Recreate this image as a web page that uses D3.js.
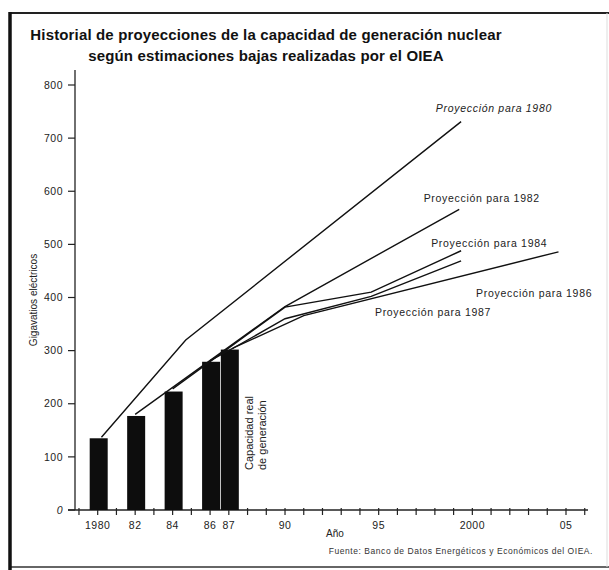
<!DOCTYPE html>
<html>
<head>
<meta charset="utf-8">
<script src="https://cdn.jsdelivr.net/npm/d3@7"></script>
<style>
  body { margin: 0; background: #fff; }
  svg { display: block; }
</style>
</head>
<body>
<svg id="chart" width="609" height="570"></svg>
<script>
// Actual generating capacity (GW)
const barYears = [1980, 1982, 1984, 1986, 1987];
const barValues = [135, 177, 223, 279, 302];

// Low-estimate projections, [year, GW]
const proj1980 = [[1980.2, 137], [1984.7, 320], [1999.4, 731]];
const proj1982 = [[1982, 180], [1990, 383], [1999.3, 566]];
const proj1984 = [[1984, 228], [1990, 382], [1994.6, 410], [1999.4, 488]];
const proj1986 = [[1986, 281], [1987.3, 306], [1991, 366], [2004.6, 486]];
const proj1987 = [[1987.2, 304], [1990, 360], [1994.6, 402], [1999.4, 469]];

const projNames = ["Proyección para 1980", "Proyección para 1982", "Proyección para 1984",
    "Proyección para 1986", "Proyección para 1987"];
// label anchors in data units [year, GW]
const projLabelAt = [[1998.05, 750], [1997.4, 580], [1997.8, 495], [2000.2, 401], [1994.8, 365]];

const yTicks = [0, 100, 200, 300, 400, 500, 600, 700, 800];
const xTickYears = [1980, 1982, 1984, 1986, 1987, 1990, 1995, 2000, 2005];
const xTickLabels = ["1980", "82", "84", "86", "87", "90", "95", "2000", "05"];

const titleLines = ["Historial de proyecciones de la capacidad de generación nuclear",
    "según estimaciones bajas realizadas por el OIEA"];

const font = "'Liberation Sans', Arial, Helvetica, sans-serif";
const svg = d3.select("#chart");

// frame (right side barely visible in the scan)
svg.append("line")
    .attr("x1", 10).attr("x2", 609).attr("y1", 13).attr("y2", 13)
    .attr("stroke", "#222").attr("stroke-width", 2);
svg.append("line")
    .attr("x1", 10).attr("x2", 609).attr("y1", 567).attr("y2", 567)
    .attr("stroke", "#333").attr("stroke-width", 1.5);
svg.append("line")
    .attr("x1", 607).attr("x2", 607).attr("y1", 13).attr("y2", 567)
    .attr("stroke", "#ddd").attr("stroke-width", 1);
svg.append("line")
    .attr("x1", 10).attr("x2", 10).attr("y1", 12).attr("y2", 570)
    .attr("stroke", "#111").attr("stroke-width", 3.5);

// title
svg.append("g").selectAll("text")
    .data(titleLines)
    .join("text")
    .attr("x", 266)
    .attr("y", (d, i) => 40 + i * 21)
    .attr("text-anchor", "middle")
    .style("font-family", font)
    .style("font-size", "15px")
    .style("font-weight", "bold")
    .style("letter-spacing", "0.15px")
    .attr("fill", "#111")
    .text(d => d);

// scales
const x = d3.scaleLinear().domain([1980, 2005]).range([97.7, 566]);
const y = d3.scaleLinear().domain([0, 800]).range([510, 85]);

// y axis
svg.append("line")
    .attr("x1", 75).attr("x2", 75).attr("y1", 70).attr("y2", 510)
    .attr("stroke", "#222").attr("stroke-width", 1.3);

const yAxis = svg.append("g").selectAll("g")
    .data(yTicks)
    .join("g")
    .attr("transform", d => `translate(0,${y(d)})`);
yAxis.append("line")
    .attr("x1", 68).attr("x2", 75)
    .attr("stroke", "#222").attr("stroke-width", 1.2);
yAxis.append("text")
    .attr("x", 63)
    .attr("dy", "0.35em")
    .attr("text-anchor", "end")
    .style("font-family", font)
    .style("font-size", "10.5px")
    .style("letter-spacing", "0.5px")
    .style("font-style", d => d === 0 ? "italic" : "normal")
    .attr("fill", "#222")
    .text(d => d);

svg.append("text")
    .attr("transform", "translate(37,300) rotate(-90)")
    .attr("text-anchor", "middle")
    .style("font-family", font)
    .style("font-size", "10px")
    .attr("fill", "#222")
    .text("Gigavatios eléctricos");

// x axis
svg.append("line")
    .attr("x1", 68).attr("x2", 588).attr("y1", 510).attr("y2", 510)
    .attr("stroke", "#222").attr("stroke-width", 1.3);

svg.append("g").selectAll("line")
    .data(d3.range(1979, 2007))
    .join("line")
    .attr("x1", d => x(d)).attr("x2", d => x(d))
    .attr("y1", 508).attr("y2", 515)
    .attr("stroke", "#222").attr("stroke-width", 1.2);

svg.append("g").selectAll("text")
    .data(xTickYears)
    .join("text")
    .attr("x", d => x(d))
    .attr("y", 529)
    .attr("text-anchor", "middle")
    .style("font-family", font)
    .style("font-size", "10.5px")
    .style("letter-spacing", "0.5px")
    .attr("fill", "#222")
    .text((d, i) => xTickLabels[i]);

svg.append("text")
    .attr("x", 335).attr("y", 537)
    .attr("text-anchor", "middle")
    .style("font-family", font)
    .style("font-size", "10px")
    .attr("fill", "#222")
    .text("Año");

// bars
const barW = 18;
svg.append("g").selectAll("rect")
    .data(barYears)
    .join("rect")
    .attr("x", d => x(d) + 1 - barW / 2)
    .attr("y", (d, i) => y(barValues[i]))
    .attr("width", barW)
    .attr("height", (d, i) => y(0) - y(barValues[i]))
    .attr("fill", "#0d0d0d");

// projection lines
const line = d3.line()
    .x(d => x(d[0]))
    .y(d => y(d[1]));

svg.append("g").selectAll("path")
    .data([proj1980, proj1982, proj1984, proj1986, proj1987])
    .join("path")
    .attr("d", line)
    .attr("fill", "none")
    .attr("stroke", "#111")
    .attr("stroke-width", 1.4);

svg.append("g").selectAll("text")
    .data(projNames)
    .join("text")
    .attr("x", (d, i) => x(projLabelAt[i][0]))
    .attr("y", (d, i) => y(projLabelAt[i][1]))
    .style("font-family", font)
    .style("font-size", "10.5px")
    .style("letter-spacing", "0.7px")
    .style("font-style", (d, i) => i === 0 ? "italic" : "normal")
    .attr("fill", "#222")
    .text(d => d);

// actual capacity label
svg.append("text")
    .attr("transform", "translate(253,470) rotate(-90)")
    .style("font-family", font)
    .style("font-size", "11px")
    .attr("fill", "#222")
    .selectAll("tspan")
    .data(["Capacidad real", "de generación"])
    .join("tspan")
    .attr("x", 0)
    .attr("dy", (d, i) => i === 0 ? 0 : "1.2em")
    .text(d => d);

// source
svg.append("text")
    .attr("x", 593).attr("y", 554)
    .attr("text-anchor", "end")
    .style("font-family", font)
    .style("font-size", "8.5px")
    .style("letter-spacing", "0.55px")
    .attr("fill", "#333")
    .text("Fuente: Banco de Datos Energéticos y Económicos del OIEA.");
</script>
</body>
</html>
